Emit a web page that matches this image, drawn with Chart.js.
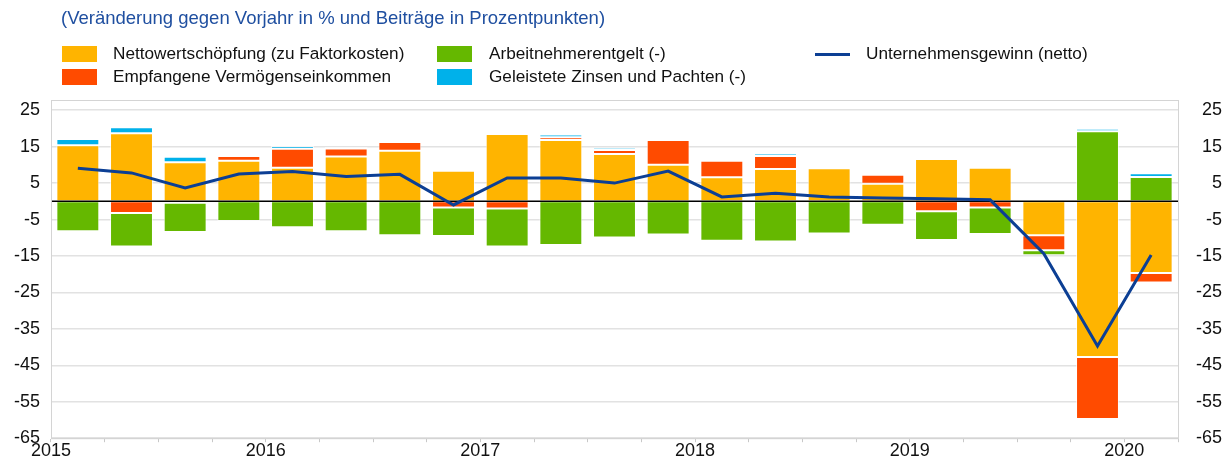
<!DOCTYPE html>
<html>
<head>
<meta charset="utf-8">
<script src="https://cdn.jsdelivr.net/npm/chart.js@4/dist/chart.umd.min.js"></script>
<style>
  body { margin: 0; background: #fff; font-family: "Liberation Sans", Arial, sans-serif; }
  #wrap { position: relative; width: 1222px; height: 461px; }
  #title { position: absolute; left: 61px; top: 7px; font-size: 18.5px; color: #1f4fa0; white-space: nowrap; }
  .lg { position: absolute; font-size: 17.2px; color: #111; white-space: nowrap; line-height: 18px; }
  .sw { position: absolute; width: 35px; height: 16px; }
  .ln { position: absolute; width: 35px; height: 3px; background: #0c3f94; }
  canvas { position: absolute; left: 0; top: 0; }
</style>
</head>
<body>
<div id="wrap">
  <canvas id="profits" width="1222" height="461"></canvas>
  <div id="title">(Veränderung gegen Vorjahr in % und Beiträge in Prozentpunkten)</div>
  <div class="sw" style="left:62px;top:46px;background:#FFB400"></div>
  <div class="lg" style="left:113px;top:44px">Nettowertschöpfung (zu Faktorkosten)</div>
  <div class="sw" style="left:62px;top:69px;background:#FF4B00"></div>
  <div class="lg" style="left:113px;top:67px">Empfangene Vermögenseinkommen</div>
  <div class="sw" style="left:437px;top:46px;background:#65B800"></div>
  <div class="lg" style="left:489px;top:44px">Arbeitnehmerentgelt (-)</div>
  <div class="sw" style="left:437px;top:69px;background:#00B1EA"></div>
  <div class="lg" style="left:489px;top:67px">Geleistete Zinsen und Pachten (-)</div>
  <div class="ln" style="left:815px;top:53px"></div>
  <div class="lg" style="left:866px;top:44px">Unternehmensgewinn (netto)</div>
</div>
<script>
const quarters = [
  '2015 Q1', '2015 Q2', '2015 Q3', '2015 Q4',
  '2016 Q1', '2016 Q2', '2016 Q3', '2016 Q4',
  '2017 Q1', '2017 Q2', '2017 Q3', '2017 Q4',
  '2018 Q1', '2018 Q2', '2018 Q3', '2018 Q4',
  '2019 Q1', '2019 Q2', '2019 Q3', '2019 Q4',
  '2020 Q1'
]
const yearLabels = ['2015', '2016', '2017', '2018', '2019', '2020']
const yTicks = [25, 15, 5, -5, -15, -25, -35, -45, -55, -65]

// contributions, percentage points
const valueAdded = [15.4, 18.7, 10.7, 11.1, 9.2, 12.3, 13.9, 8.4, 18.5, 16.8, 13.0, 10.0, 6.6, 8.9, 9.1, 4.8, 11.6, 9.2, -9.3, -42.7, -19.7]
const propertyIncome = [null, -3.2, -0.4, 1.3, 5.2, 2.2, 2.4, -1.7, -2.0, 0.8, 1.1, 6.8, 4.5, 3.5, 0.3, 2.5, -2.7, -1.7, -4.1, -17.0, -2.6]
const compensation = [-8.2, -9.2, -8.0, -5.4, -7.1, -8.2, -9.3, -7.8, -10.4, -12.0, -9.9, -9.1, -10.8, -11.0, -8.8, -6.4, -7.9, -7.3, -1.4, 19.2, 6.7]
const interestRent = [1.7, 1.6, 1.5, 0.6, 0.8, 0.4, null, null, null, 0.7, 0.6, 0.4, 0.6, 0.7, null, null, -0.4, null, 0.3, 0.7, 1.0]
// annual % change
const netProfits = [9.1, 7.8, 3.7, 7.5, 8.2, 6.8, 7.4, -1.0, 6.4, 6.4, 5.0, 8.3, 1.2, 2.2, 1.2, 0.9, 0.7, 0.4, -14.4, -39.7, -14.7]

const font = { family: '"Liberation Sans", Arial, sans-serif', size: 18 }

const bar = (label, data, color) => ({
  type: 'bar',
  label: label,
  data: data,
  backgroundColor: color,
  borderColor: 'rgba(255,255,255,0.65)',
  borderWidth: 1,
  borderSkipped: false,
  barPercentage: 0.8,
  categoryPercentage: 1,
  order: 1
})

const zeroLine = {
  id: 'zeroLine',
  beforeDatasetDraw(chart, args) {
    if (args.meta.type !== 'line') return
    const { ctx, chartArea } = chart
    const y = chart.scales.y.getPixelForValue(0)
    ctx.save()
    ctx.strokeStyle = '#000'
    ctx.lineWidth = 1.5
    ctx.beginPath()
    ctx.moveTo(chartArea.left, y)
    ctx.lineTo(chartArea.right, y)
    ctx.stroke()
    ctx.restore()
  }
}

const frame = {
  id: 'frame',
  afterDraw(chart) {
    const { ctx, chartArea } = chart
    ctx.save()
    ctx.strokeStyle = '#d4d4d4'
    ctx.lineWidth = 1
    ctx.strokeRect(chartArea.left + 0.5, chartArea.top + 0.5, chartArea.right - chartArea.left, chartArea.bottom - chartArea.top)
    ctx.restore()
  }
}

const setTicks = (scale) => {
  scale.ticks = yTicks.map(v => ({ value: v }))
}

const createChart = () => {
  const ctx = document.querySelector('#profits')
  new Chart(ctx, {
    data: {
      labels: quarters,
      datasets: [
        bar('Nettowertschöpfung (zu Faktorkosten)', valueAdded, '#FFB400'),
        bar('Empfangene Vermögenseinkommen', propertyIncome, '#FF4B00'),
        bar('Arbeitnehmerentgelt (-)', compensation, '#65B800'),
        bar('Geleistete Zinsen und Pachten (-)', interestRent, '#00B1EA'),
        {
          type: 'line',
          label: 'Unternehmensgewinn (netto)',
          data: netProfits,
          borderColor: '#0c3f94',
          borderWidth: 3,
          pointRadius: 0,
          tension: 0,
          order: 0
        }
      ]
    },
    options: {
      responsive: false,
      animation: false,
      layout: { padding: { top: 100, left: 0, right: 0, bottom: 0 } },
      plugins: { legend: { display: false }, tooltip: { enabled: false } },
      scales: {
        x: {
          stacked: true,
          offset: true,
          grid: { offset: true, drawOnChartArea: false, tickLength: 4, color: '#c8c8c8' },
          border: { color: '#d4d4d4' },
          ticks: {
            autoSkip: false,
            maxRotation: 0,
            padding: -2,
            labelOffset: -26.84,
            color: '#111',
            font: font,
            callback: (v, i) => i % 4 === 0 ? yearLabels[i / 4] : ''
          },
          afterFit: (scale) => { scale.height = 19 }
        },
        y: {
          stacked: true,
          min: -65,
          max: 27.8,
          afterBuildTicks: setTicks,
          grid: {
            drawTicks: false,
            color: (c) => c.tick && c.tick.value === 0 ? '#555' : '#e2e2e2',
            lineWidth: (c) => c.tick && c.tick.value === 0 ? 3 : 1.5
          },
          border: { color: '#d4d4d4' },
          ticks: { padding: 11, color: '#111', font: font },
          afterFit: (scale) => { scale.width = 51 }
        },
        y2: {
          position: 'right',
          min: -65,
          max: 27.8,
          afterBuildTicks: setTicks,
          grid: { display: false, drawTicks: false },
          border: { color: '#d4d4d4' },
          ticks: { padding: 12, crossAlign: 'far', color: '#111', font: font },
          afterFit: (scale) => { scale.width = 44 }
        }
      }
    },
    plugins: [zeroLine, frame]
  })
}

createChart()
</script>
</body>
</html>
